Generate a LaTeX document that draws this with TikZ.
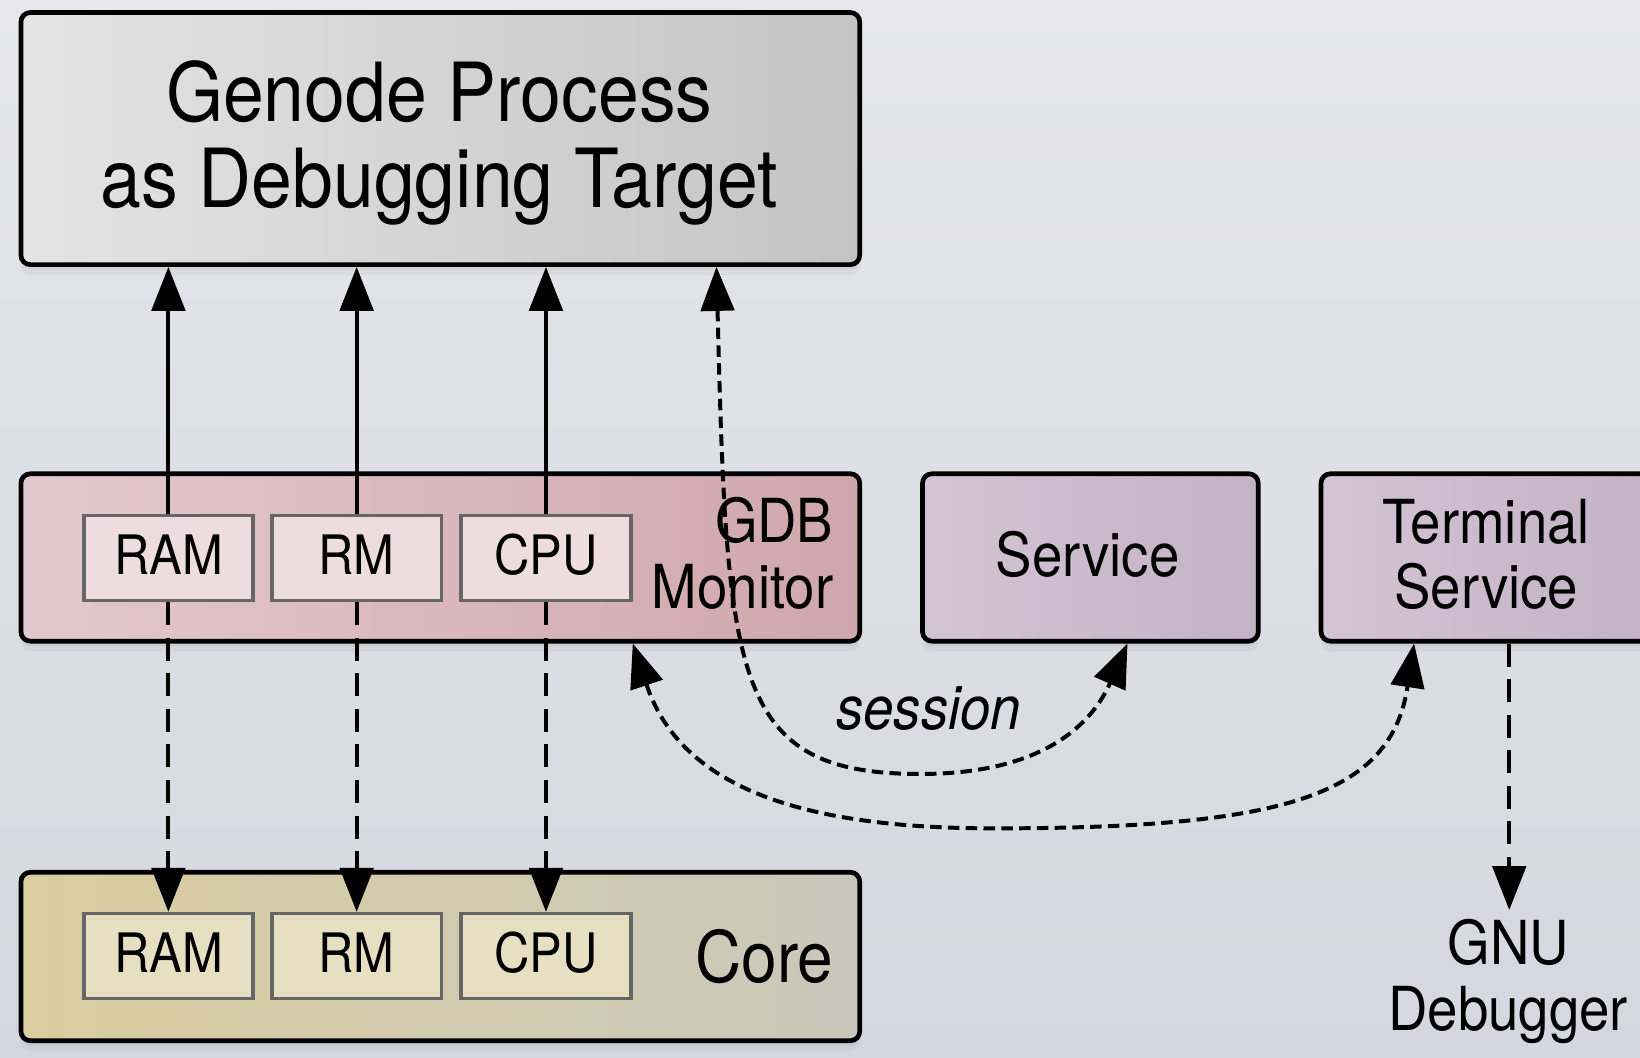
\documentclass[tikz,border=0pt]{standalone}
\usepackage{fontspec}
\setmainfont{TeX Gyre Heros}[FakeStretch=0.9]
\usetikzlibrary{arrows.meta,shadows,calc}
\definecolor{bgtop}{HTML}{E6E6EC}
\definecolor{bgbot}{HTML}{D6D6E0}
\definecolor{tgL}{HTML}{E4E4E4}
\definecolor{tgR}{HTML}{C4C4C4}
\definecolor{gdbL}{HTML}{E2C9CD}
\definecolor{gdbR}{HTML}{D0A6AD}
\definecolor{gdbIn}{HTML}{EDDDE0}
\definecolor{svL}{HTML}{D3C4D3}
\definecolor{svR}{HTML}{C4B1C6}
\definecolor{coL}{HTML}{DACD9F}
\definecolor{coM}{HTML}{C4B986}
\definecolor{coR}{HTML}{CAC8BC}
\definecolor{coIn}{HTML}{E6DFC2}
\begin{document}
\begin{tikzpicture}[x=1pt,y=-1pt,
  box/.style={draw=black, line width=4.5pt, rounded corners=9pt, inner sep=0pt,
    drop shadow={opacity=0.10, shadow xshift=0pt, shadow yshift=-5pt},
    drop shadow={opacity=0.08, shadow xshift=0pt, shadow yshift=-10pt}},
  inbox/.style={draw=black!60, line width=3.5pt, inner sep=0pt,
    minimum width=162pt, minimum height=81pt},
  arr/.style={line width=3.8pt, -{Triangle[length=42pt,width=32pt]}},
  darr/.style={line width=3.8pt, dash pattern=on 22pt off 12pt, -{Triangle[length=42pt,width=32pt]}},
  carr/.style={line width=3.8pt, dash pattern=on 11pt off 6pt,
    {Triangle[length=42pt,width=32pt]}-{Triangle[length=42pt,width=32pt]}},
  txt/.style={inner sep=0pt, anchor=base, text=black},
  f78/.style={font=\fontsize{78}{82}\selectfont},
  f58/.style={font=\fontsize{58}{62}\selectfont},
  f52/.style={font=\fontsize{52}{56}\selectfont},
  f68/.style={font=\fontsize{68}{72}\selectfont}]
\useasboundingbox (0,0) rectangle (1568,1010.6);
\clip (0,0) rectangle (1568,1010.6);
\fill[top color=bgtop, bottom color=bgbot] (0,0) rectangle (1568,1010.6);

% boxes
\node[box, left color=tgL, right color=tgR, minimum width=802pt, minimum height=241pt] (target) at (421,132.5) {};
\node[box, left color=gdbL, right color=gdbR, minimum width=802pt, minimum height=160pt] (gdb) at (421,533) {};
\node[box, left color=svL, right color=svR, minimum width=321pt, minimum height=160pt] (service) at (1042.5,533) {};
\node[box, left color=svL, right color=svR, minimum width=321pt, minimum height=160pt] (terminal) at (1423.5,533) {};
\node[box, left color=coL, middle color=coM, right color=coR, minimum width=802pt, minimum height=161pt] (core) at (421,914.5) {};

% inner boxes
\node[inbox, fill=gdbIn] (gram) at (161,533.5) {};
\node[inbox, fill=gdbIn] (grm) at (341,533.5) {};
\node[inbox, fill=gdbIn] (gcpu) at (522,533.5) {};
\node[inbox, fill=coIn] (cram) at (161,914) {};
\node[inbox, fill=coIn] (crm) at (341,914) {};
\node[inbox, fill=coIn] (ccpu) at (522,914) {};

% texts
\node[txt, f78] (t1) at (420,116) {Genode Process};
\node[txt, f78] (t2) at (420,198) {as Debugging Target};
\node[txt, f52] (l1) at (161,549) {RAM};
\node[txt, f52] (l2) at (341,549) {RM};
\node[txt, f52] (l3) at (522,549) {CPU};
\node[txt, f52] (l4) at (161,930) {RAM};
\node[txt, f52] (l5) at (341,930) {RM};
\node[txt, f52] (l6) at (522,930) {CPU};
\node[txt, f58, anchor=base east] (g1) at (797,519) {GDB};
\node[txt, f58, anchor=base east] (g2) at (797,582) {Monitor};
\node[txt, f58] (sv) at (1040,551) {Service};
\node[txt, f58] (ts1) at (1421,520) {Terminal};
\node[txt, f58] (ts2) at (1421,582) {Service};
\node[txt, f68, anchor=base east] (co) at (797,939) {Core};
\node[txt, f58] (gnu1) at (1442,922) {GNU};
\node[txt, f58] (gnu2) at (1442,985) {Debugger};
\node[txt, font=\fontsize{58}{62}\selectfont\itshape] (sess) at (888,697) {session};
\coordinate (gtip) at (1443,870);

% solid arrows up
\draw[arr] (gram.north) -- (gram.north |- target.south);
\draw[arr] (grm.north) -- (grm.north |- target.south);
\draw[arr] (gcpu.north) -- (gcpu.north |- target.south);

% dashed arrows down
\draw[darr] (gram.south) -- (cram.north);
\draw[darr] (grm.south) -- (crm.north);
\draw[darr] (gcpu.south) -- (ccpu.north);

% session
\draw[carr] ([xshift=264pt]target.south) .. controls (695,650) and (700,740) .. (880,740)
  .. controls (1000,740) and (1045,690) .. ([xshift=35.5pt]service.south);
% terminal connection
\draw[carr] ([xshift=184pt]gdb.south) .. controls (650,750) and (760,792) .. (950,792)
  .. controls (1230,792) and (1330,760) .. ([xshift=-71.5pt]terminal.south);
% to GNU debugger
\draw[darr] ([xshift=19.5pt]terminal.south) -- (gtip);
\end{tikzpicture}
\end{document}
